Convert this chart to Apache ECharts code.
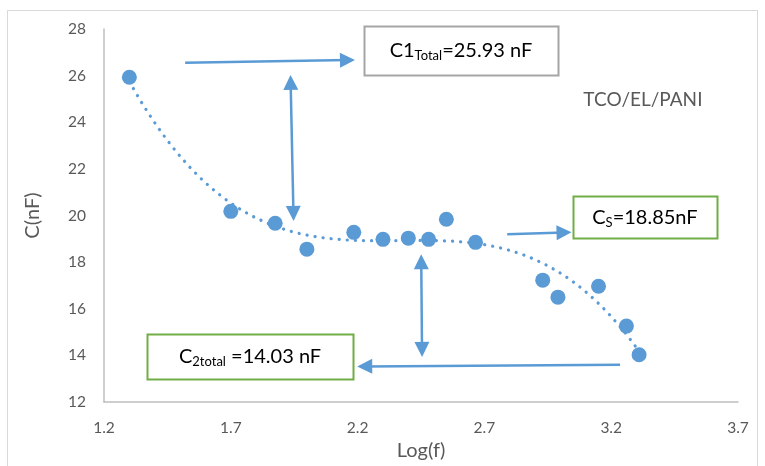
<!DOCTYPE html>
<html>
<head>
<meta charset="utf-8">
<script src="https://cdn.jsdelivr.net/npm/echarts@6/dist/echarts.min.js"></script>
<style>
  html, body { margin: 0; padding: 0; background: #ffffff; }
  #chart { width: 765px; height: 466px; }
</style>
</head>
<body>
<div id="chart"></div>
<script>
// Measured capacitance versus log frequency
const logF  = [1.30, 1.70, 1.875, 2.00, 2.185, 2.30, 2.40, 2.48, 2.55, 2.665, 2.93, 2.99, 3.15, 3.26, 3.31];
const capNF = [25.93, 20.18, 19.67, 18.56, 19.28, 18.98, 19.03, 18.98, 19.84, 18.85, 17.23, 16.50, 16.97, 15.26, 14.03];

// Axis ranges
const xRange = [1.2, 3.7, 0.5];
const yRange = [12, 28, 2];

// Annotation values
const c1Total = '25.93 nF';
const cS = '18.85nF';
const c2Total = '14.03 nF';
const sampleName = 'TCO/EL/PANI';

const BLUE = '#5B9BD5';
const GREEN = '#70AD47';
const GREY_BOX = '#A5A5A5';
const FONT = 'Lato, "Open Sans", sans-serif';

// Least-squares polynomial trendline (like a spreadsheet polynomial trendline)
function polyFit(xs, ys, order) {
  const n = order + 1;
  const m = xs.reduce((a, b) => a + b, 0) / xs.length;
  const A = Array.from({ length: n }, () => new Array(n + 1).fill(0));
  for (let k = 0; k < xs.length; k++) {
    const t = xs[k] - m;
    for (let i = 0; i < n; i++) {
      for (let j = 0; j < n; j++) A[i][j] += Math.pow(t, i + j);
      A[i][n] += ys[k] * Math.pow(t, i);
    }
  }
  for (let c = 0; c < n; c++) {
    let p = c;
    for (let r = c + 1; r < n; r++) if (Math.abs(A[r][c]) > Math.abs(A[p][c])) p = r;
    [A[c], A[p]] = [A[p], A[c]];
    for (let r = 0; r < n; r++) {
      if (r === c) continue;
      const f = A[r][c] / A[c][c];
      for (let k = c; k <= n; k++) A[r][k] -= f * A[c][k];
    }
  }
  const coef = A.map((row, i) => row[n] / row[i]);
  return x => coef.reduce((s, a, i) => s + a * Math.pow(x - m, i), 0);
}

const trend = polyFit(logF, capNF, 3);
const xMin = Math.min(...logF), xMax = Math.max(...logF);
const trendPts = [];
for (let i = 0; i <= 200; i++) {
  const x = xMin + (xMax - xMin) * i / 200;
  trendPts.push([x, trend(x)]);
}

const points = logF.map((x, i) => [x, capNF[i]]);

// Arrows, in data coordinates: [from, to, double-headed]
const arrows = [
  [[1.52, 26.55], [2.16, 26.67], false],
  [[1.936, 25.71], [1.947, 20.09], true],
  [[2.451, 18.02], [2.454, 14.26], true],
  [[2.79, 19.20], [3.014, 19.27], false],
  [[3.235, 13.60], [2.228, 13.53], false]
];

const chart = echarts.init(document.getElementById('chart'), null, { renderer: 'canvas' });

chart.setOption({
  animation: false,
  backgroundColor: '#ffffff',
  grid: { left: 104, right: 27, top: 29, bottom: 63 },
  xAxis: {
    type: 'value',
    min: xRange[0], max: xRange[1], interval: xRange[2],
    name: 'Log(f)',
    nameLocation: 'middle',
    nameGap: 37,
    nameTextStyle: { color: '#595959', fontSize: 20, fontFamily: FONT },
    axisLine: { show: true, lineStyle: { color: '#BFBFBF', width: 1.5 } },
    axisTick: { show: false },
    splitLine: { show: false },
    axisLabel: {
      color: '#595959', fontSize: 15.5, fontFamily: FONT, margin: 18,
      formatter: v => v.toFixed(1)
    }
  },
  yAxis: {
    type: 'value',
    min: yRange[0], max: yRange[1], interval: yRange[2],
    name: 'C(nF)',
    nameLocation: 'middle',
    nameGap: 61,
    nameTextStyle: { color: '#595959', fontSize: 20, fontFamily: FONT },
    axisLine: { show: true, lineStyle: { color: '#BFBFBF', width: 1.5 } },
    axisTick: { show: false },
    splitLine: { show: false },
    axisLabel: { color: '#595959', fontSize: 15.5, fontFamily: FONT, margin: 18 }
  },
  series: [
    {
      name: 'trend',
      type: 'line',
      data: trendPts,
      showSymbol: false,
      symbol: 'none',
      silent: true,
      z: 1,
      lineStyle: { color: BLUE, width: 3.2, type: [0.1, 8], cap: 'round' }
    },
    {
      name: 'C',
      type: 'scatter',
      data: points,
      symbolSize: 15,
      z: 3,
      itemStyle: { color: BLUE, opacity: 1 },
      markLine: {
        silent: true,
        animation: false,
        symbolSize: 15,
        label: { show: false },
        emphasis: { disabled: true },
        lineStyle: { color: BLUE, width: 2.5, type: 'solid', opacity: 1 },
        data: arrows.map(a => [
          { coord: a[0], symbol: a[2] ? 'triangle' : 'none' },
          { coord: a[1], symbol: 'triangle' }
        ])
      }
    }
  ]
});

// Annotation boxes placed in data space
function px(x, y) { return chart.convertToPixel({ gridIndex: 0 }, [x, y]); }

function box(x0, y0, x1, y1, stroke, text, rich) {
  const a = px(x0, y0), b = px(x1, y1);
  return [
    {
      type: 'rect',
      shape: { x: Math.round(a[0]) + 0.5, y: Math.round(a[1]) + 0.5,
               width: Math.round(b[0] - a[0]), height: Math.round(b[1] - a[1]) },
      style: { fill: '#ffffff', stroke: stroke, lineWidth: 2 },
      z: 10
    },
    {
      type: 'text',
      x: (a[0] + b[0]) / 2, y: (a[1] + b[1]) / 2,
      style: { text: text, rich: rich, align: 'center', verticalAlign: 'middle', fill: '#000000' },
      z: 11
    }
  ];
}

const richStyle = {
  m: { fontSize: 20, fontFamily: FONT, fill: '#000000', lineHeight: 24 },
  s: { fontSize: 13, fontFamily: FONT, fill: '#000000', lineHeight: 13, verticalAlign: 'bottom' }
};

const namePos = px(3.325, 24.97);

chart.setOption({
  graphic: [
    {
      type: 'rect',
      shape: { x: 7.5, y: 10.5, width: 750, height: 470 },
      style: { fill: 'none', stroke: '#D9D9D9', lineWidth: 1 },
      z: 0, silent: true
    },
    ...box(2.225, 28.13, 2.99, 26.03, GREY_BOX, '{m|C1}{s|Total}{m|=' + c1Total + '}', richStyle),
    ...box(3.049, 20.82, 3.617, 19.03, GREEN, '{m|C}{s|S}{m|=' + cS + '}', richStyle),
    ...box(1.370, 14.92, 2.182, 13.00, GREEN, '{m|C}{s|2total}{m| =' + c2Total + '}', richStyle),
    {
      type: 'text',
      x: namePos[0], y: namePos[1],
      style: { text: sampleName, fontSize: 19, fontFamily: FONT, fill: '#595959',
               align: 'center', verticalAlign: 'middle' },
      z: 11
    }
  ]
});
</script>
</body>
</html>
